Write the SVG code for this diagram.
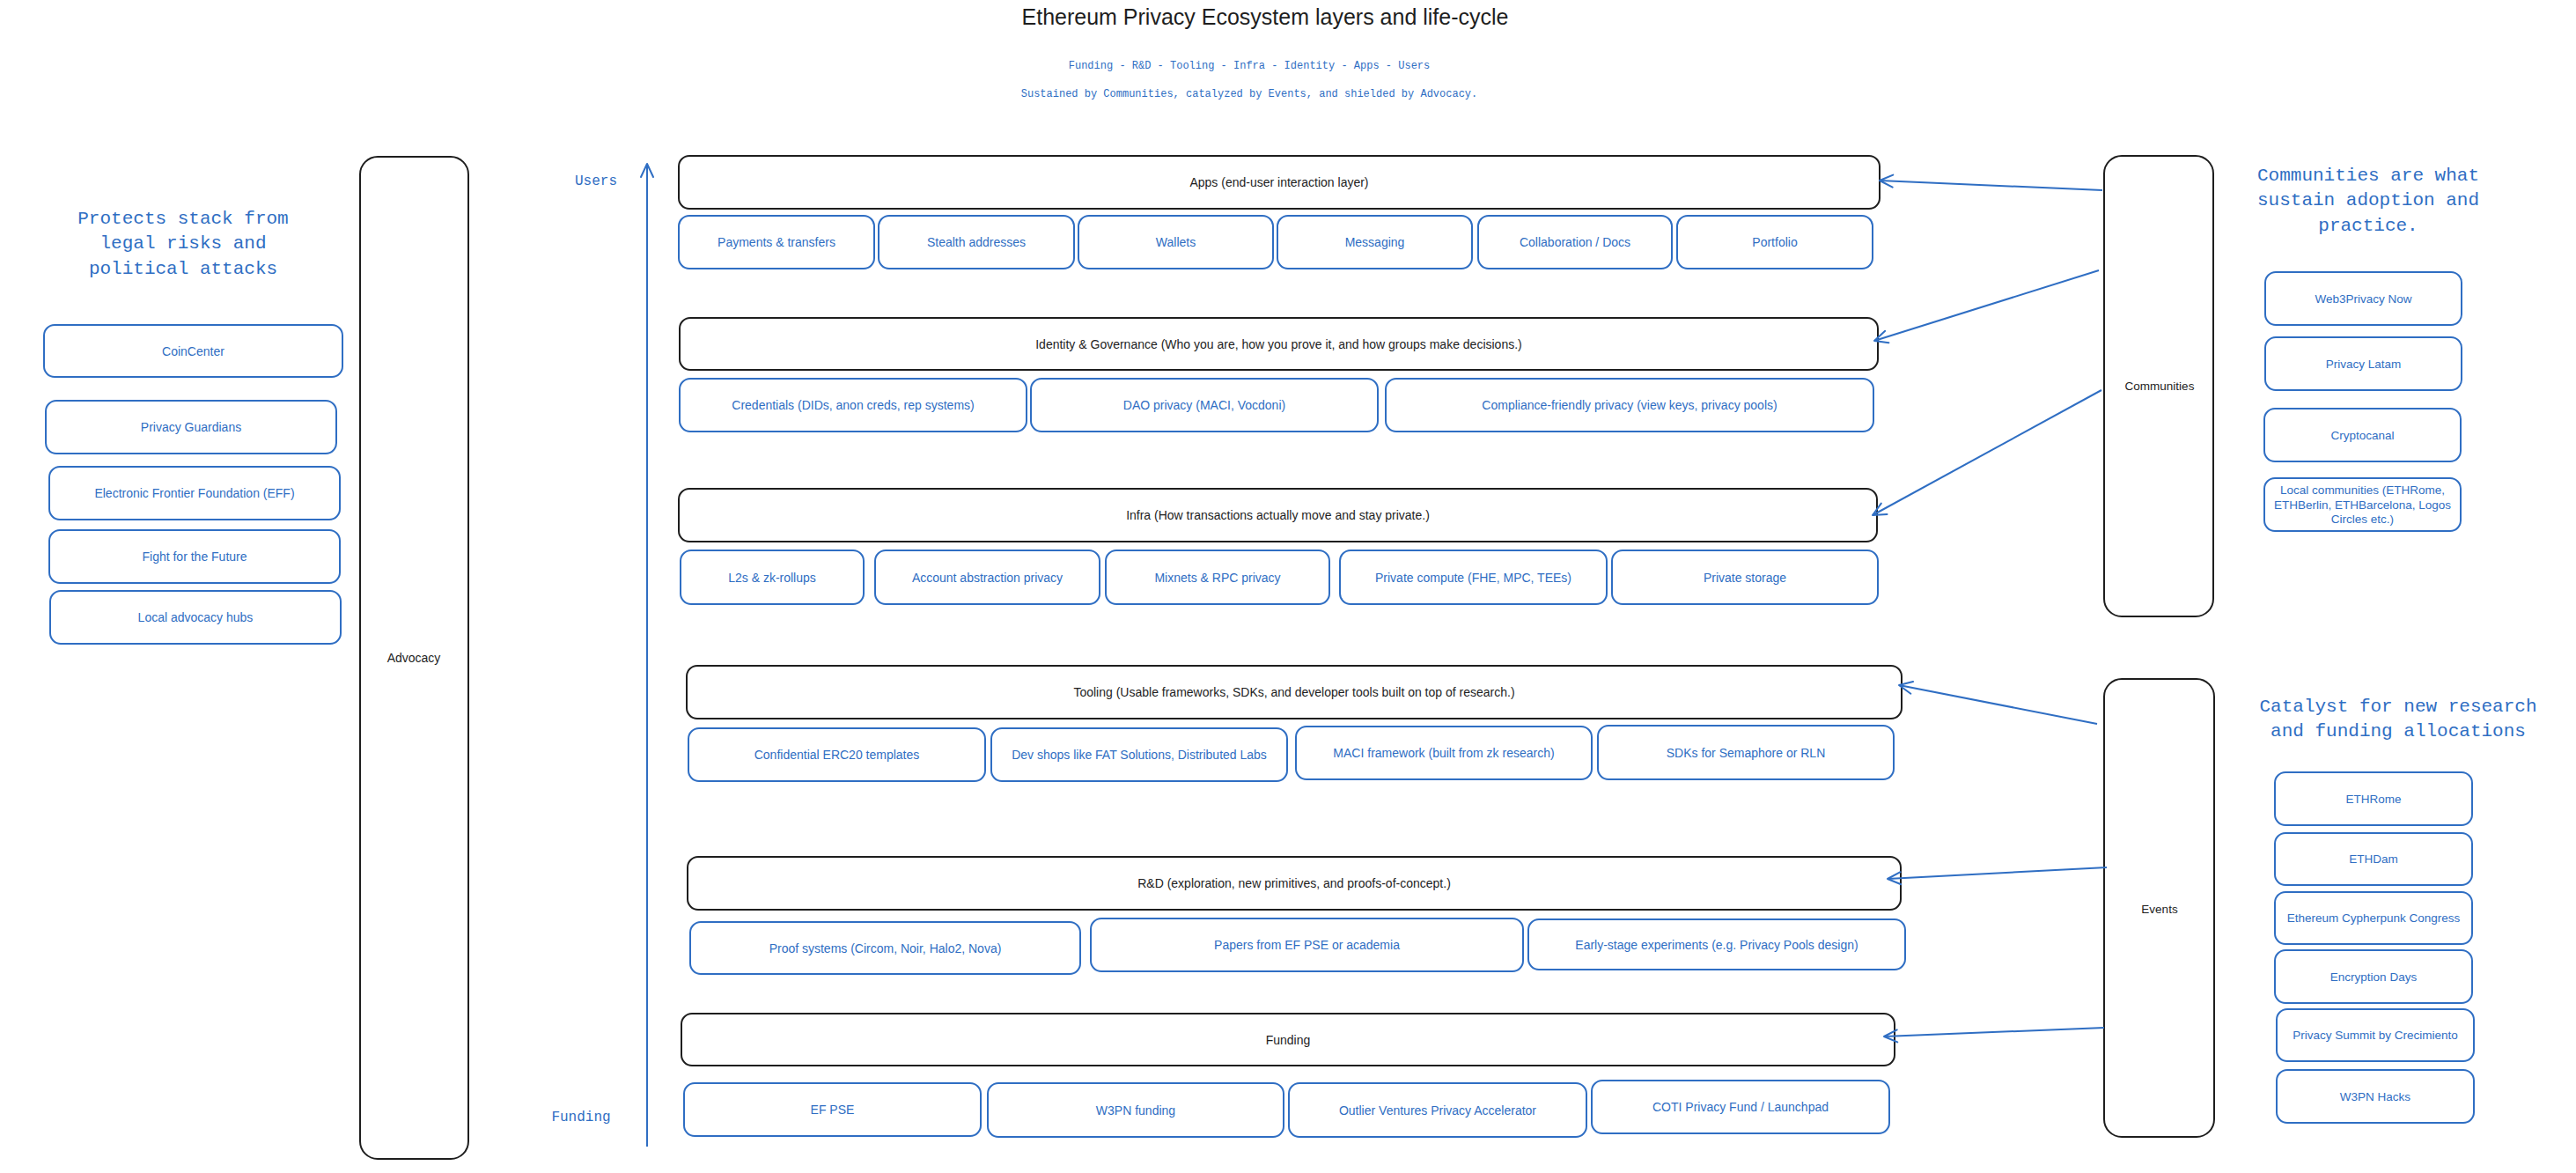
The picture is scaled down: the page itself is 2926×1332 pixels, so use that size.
<svg xmlns="http://www.w3.org/2000/svg" width="2926" height="1332" viewBox="0 0 2926 1332">
<style>
.bg{fill:#ffffff}
.lay{fill:#ffffff;stroke:#1e1e1e;stroke-width:2}
.tall{fill:#ffffff;stroke:#1e1e1e;stroke-width:2}
.sub{fill:#ffffff;stroke:#2f6ec3;stroke-width:2}
.t{font-family:"Liberation Sans",Arial,sans-serif;font-size:14px;text-anchor:middle;dominant-baseline:central}
.tk{fill:#1e1e1e}
.tbl{fill:#2f6ec3}
.tr{font-size:13.5px}
.mono{font-family:"Liberation Mono","DejaVu Sans Mono",monospace;fill:#2f6ec3;text-anchor:middle}
.h{font-size:21px}
.s{font-size:12px}
.ax{font-size:16px}
.title{font-family:"Liberation Sans",Arial,sans-serif;font-size:25px;fill:#1e1e1e;text-anchor:middle}
.conn{stroke:#2f6ec3;stroke-width:2;fill:none;marker-end:url(#ah)}
</style>
<defs>
<marker id="ah" markerUnits="userSpaceOnUse" markerWidth="24" markerHeight="24" refX="18" refY="10" orient="auto">
<path d="M3,3 L18,10 L3,17" fill="none" stroke="#2f6ec3" stroke-width="2" stroke-linecap="round" stroke-linejoin="round"/>
</marker>
</defs>
<rect class="bg" x="0" y="0" width="2926" height="1332"/>

<g id="header">
<text class="title" x="1437" y="28">Ethereum Privacy Ecosystem layers and life-cycle</text>
<text class="mono s" x="1419" y="78">Funding - R&amp;D - Tooling - Infra - Identity - Apps - Users</text>
<text class="mono s" x="1419" y="110">Sustained by Communities, catalyzed by Events, and shielded by Advocacy.</text>
</g>

<g id="advocacy-heading">
<text class="mono h" x="208" y="254">Protects stack from</text>
<text class="mono h" x="208" y="282">legal risks and</text>
<text class="mono h" x="208" y="311">political attacks</text>
</g>
<g id="communities-heading">
<text class="mono h" x="2690" y="205">Communities are what</text>
<text class="mono h" x="2690" y="233">sustain adoption and</text>
<text class="mono h" x="2690" y="262">practice.</text>
</g>
<g id="events-heading">
<text class="mono h" x="2724" y="808">Catalyst for new research</text>
<text class="mono h" x="2724" y="836">and funding allocations</text>
</g>

<g id="axis">
<text class="mono ax" x="677" y="210">Users</text>
<text class="mono ax" x="660" y="1273">Funding</text>
</g>

<g id="advocacy"><rect class="tall" x="409" y="178" width="123" height="1138" rx="20"/><text class="t tk" x="470" y="747">Advocacy</text></g>
<g id="communities"><rect class="tall" x="2390" y="177" width="124" height="523" rx="20"/><text class="t tk tr" x="2453" y="438">Communities</text></g>
<g id="events"><rect class="tall" x="2390" y="771" width="125" height="520" rx="20"/><text class="t tk tr" x="2453" y="1032">Events</text></g>

<g id="adv-coincenter"><rect class="sub" x="50" y="369" width="339" height="59" rx="12"/><text class="t tbl" x="219.5" y="398.5">CoinCenter</text></g>
<g id="adv-privacy-guardians"><rect class="sub" x="52" y="455" width="330" height="60" rx="12"/><text class="t tbl" x="217" y="485">Privacy Guardians</text></g>
<g id="adv-eff"><rect class="sub" x="56" y="530" width="330" height="60" rx="12"/><text class="t tbl" x="221" y="560">Electronic Frontier Foundation (EFF)</text></g>
<g id="adv-fftf"><rect class="sub" x="56" y="602" width="330" height="60" rx="12"/><text class="t tbl" x="221" y="632">Fight for the Future</text></g>
<g id="adv-local"><rect class="sub" x="57" y="671" width="330" height="60" rx="12"/><text class="t tbl" x="222" y="701">Local advocacy hubs</text></g>

<g id="apps"><rect class="lay" x="771" y="177" width="1364" height="60" rx="12"/><text class="t tk" x="1453" y="207">Apps (end-user interaction layer)</text></g>
<g id="app-payments"><rect class="sub" x="771" y="245" width="222" height="60" rx="12"/><text class="t tbl" x="882" y="275">Payments &amp; transfers</text></g>
<g id="app-stealth"><rect class="sub" x="998" y="245" width="222" height="60" rx="12"/><text class="t tbl" x="1109" y="275">Stealth addresses</text></g>
<g id="app-wallets"><rect class="sub" x="1225" y="245" width="221" height="60" rx="12"/><text class="t tbl" x="1335.5" y="275">Wallets</text></g>
<g id="app-messaging"><rect class="sub" x="1451" y="245" width="221" height="60" rx="12"/><text class="t tbl" x="1561.5" y="275">Messaging</text></g>
<g id="app-collab"><rect class="sub" x="1679" y="245" width="220" height="60" rx="12"/><text class="t tbl" x="1789" y="275">Collaboration / Docs</text></g>
<g id="app-portfolio"><rect class="sub" x="1905" y="245" width="222" height="60" rx="12"/><text class="t tbl" x="2016" y="275">Portfolio</text></g>

<g id="identity"><rect class="lay" x="772" y="361" width="1361" height="59" rx="12"/><text class="t tk" x="1452.5" y="390.5">Identity &amp; Governance (Who you are, how you prove it, and how groups make decisions.)</text></g>
<g id="id-credentials"><rect class="sub" x="772" y="430" width="394" height="60" rx="12"/><text class="t tbl" x="969" y="460">Credentials (DIDs, anon creds, rep systems)</text></g>
<g id="id-dao"><rect class="sub" x="1171" y="430" width="394" height="60" rx="12"/><text class="t tbl" x="1368" y="460">DAO privacy (MACI, Vocdoni)</text></g>
<g id="id-compliance"><rect class="sub" x="1574" y="430" width="554" height="60" rx="12"/><text class="t tbl" x="1851" y="460">Compliance-friendly privacy (view keys, privacy pools)</text></g>

<g id="infra"><rect class="lay" x="771" y="555" width="1361" height="60" rx="12"/><text class="t tk" x="1451.5" y="585">Infra (How transactions actually move and stay private.)</text></g>
<g id="inf-l2"><rect class="sub" x="773" y="625" width="208" height="61" rx="12"/><text class="t tbl" x="877" y="655.5">L2s &amp; zk-rollups</text></g>
<g id="inf-aa"><rect class="sub" x="994" y="625" width="255" height="61" rx="12"/><text class="t tbl" x="1121.5" y="655.5">Account abstraction privacy</text></g>
<g id="inf-mixnets"><rect class="sub" x="1256" y="625" width="254" height="61" rx="12"/><text class="t tbl" x="1383" y="655.5">Mixnets &amp; RPC privacy</text></g>
<g id="inf-compute"><rect class="sub" x="1522" y="625" width="303" height="61" rx="12"/><text class="t tbl" x="1673.5" y="655.5">Private compute (FHE, MPC, TEEs)</text></g>
<g id="inf-storage"><rect class="sub" x="1831" y="625" width="302" height="61" rx="12"/><text class="t tbl" x="1982" y="655.5">Private storage</text></g>

<g id="tooling"><rect class="lay" x="780" y="756" width="1380" height="60" rx="12"/><text class="t tk" x="1470" y="786">Tooling (Usable frameworks, SDKs, and developer tools built on top of research.)</text></g>
<g id="tool-erc20"><rect class="sub" x="782" y="827" width="337" height="60" rx="12"/><text class="t tbl" x="950.5" y="857">Confidential ERC20 templates</text></g>
<g id="tool-devshops"><rect class="sub" x="1126" y="827" width="336" height="60" rx="12"/><text class="t tbl" x="1294" y="857">Dev shops like FAT Solutions, Distributed Labs</text></g>
<g id="tool-maci"><rect class="sub" x="1472" y="825" width="336" height="60" rx="12"/><text class="t tbl" x="1640" y="855">MACI framework (built from zk research)</text></g>
<g id="tool-sdks"><rect class="sub" x="1815" y="824" width="336" height="61" rx="12"/><text class="t tbl" x="1983" y="854.5">SDKs for Semaphore or RLN</text></g>

<g id="rnd"><rect class="lay" x="781" y="973" width="1378" height="60" rx="12"/><text class="t tk" x="1470" y="1003">R&amp;D (exploration, new primitives, and proofs-of-concept.)</text></g>
<g id="rnd-proof"><rect class="sub" x="784" y="1047" width="443" height="59" rx="12"/><text class="t tbl" x="1005.5" y="1076.5">Proof systems (Circom, Noir, Halo2, Nova)</text></g>
<g id="rnd-papers"><rect class="sub" x="1239" y="1043" width="491" height="60" rx="12"/><text class="t tbl" x="1484.5" y="1073">Papers from EF PSE or academia</text></g>
<g id="rnd-early"><rect class="sub" x="1736" y="1044" width="428" height="57" rx="12"/><text class="t tbl" x="1950" y="1072.5">Early-stage experiments (e.g. Privacy Pools design)</text></g>

<g id="funding"><rect class="lay" x="774" y="1151" width="1378" height="59" rx="12"/><text class="t tk" x="1463" y="1180.5">Funding</text></g>
<g id="fund-efpse"><rect class="sub" x="777" y="1230" width="337" height="60" rx="12"/><text class="t tbl" x="945.5" y="1260">EF PSE</text></g>
<g id="fund-w3pn"><rect class="sub" x="1122" y="1230" width="336" height="61" rx="12"/><text class="t tbl" x="1290" y="1260.5">W3PN funding</text></g>
<g id="fund-outlier"><rect class="sub" x="1464" y="1230" width="338" height="61" rx="12"/><text class="t tbl" x="1633" y="1260.5">Outlier Ventures Privacy Accelerator</text></g>
<g id="fund-coti"><rect class="sub" x="1808" y="1227" width="338" height="60" rx="12"/><text class="t tbl" x="1977" y="1257">COTI Privacy Fund / Launchpad</text></g>

<g id="com-w3pn"><rect class="sub" x="2573" y="309" width="223" height="60" rx="12"/><text class="t tbl tr" x="2684.5" y="339">Web3Privacy Now</text></g>
<g id="com-latam"><rect class="sub" x="2573" y="383" width="223" height="60" rx="12"/><text class="t tbl tr" x="2684.5" y="413">Privacy Latam</text></g>
<g id="com-cryptocanal"><rect class="sub" x="2572" y="464" width="223" height="60" rx="12"/><text class="t tbl tr" x="2683.5" y="494">Cryptocanal</text></g>
<g id="com-local"><rect class="sub" x="2572" y="543" width="223" height="60" rx="12"/><text class="t tbl tr" x="2683.5" y="556.5">Local communities (ETHRome,</text><text class="t tbl tr" x="2683.5" y="573">ETHBerlin, ETHBarcelona, Logos</text><text class="t tbl tr" x="2683.5" y="589.5">Circles etc.)</text></g>

<g id="ev-ethrome"><rect class="sub" x="2584" y="877" width="224" height="60" rx="12"/><text class="t tbl tr" x="2696" y="907">ETHRome</text></g>
<g id="ev-ethdam"><rect class="sub" x="2584" y="946" width="224" height="59" rx="12"/><text class="t tbl tr" x="2696" y="975.5">ETHDam</text></g>
<g id="ev-ecc"><rect class="sub" x="2584" y="1013" width="224" height="59" rx="12"/><text class="t tbl tr" x="2696" y="1042.5">Ethereum Cypherpunk Congress</text></g>
<g id="ev-encryption"><rect class="sub" x="2584" y="1079" width="224" height="60" rx="12"/><text class="t tbl tr" x="2696" y="1109">Encryption Days</text></g>
<g id="ev-summit"><rect class="sub" x="2586" y="1146" width="224" height="59" rx="12"/><text class="t tbl tr" x="2698" y="1175.5">Privacy Summit by Crecimiento</text></g>
<g id="ev-w3pnhacks"><rect class="sub" x="2586" y="1215" width="224" height="60" rx="12"/><text class="t tbl tr" x="2698" y="1245">W3PN Hacks</text></g>

<g id="connectors">
<line class="conn" x1="735" y1="1302" x2="735" y2="186"/>
<line class="conn" x1="2388" y1="216" x2="2135" y2="205"/>
<line class="conn" x1="2384" y1="307" x2="2129" y2="387"/>
<line class="conn" x1="2387" y1="443" x2="2127" y2="585"/>
<line class="conn" x1="2382" y1="822" x2="2157" y2="778"/>
<line class="conn" x1="2393" y1="985" x2="2144" y2="998"/>
<line class="conn" x1="2390" y1="1167" x2="2140" y2="1177"/>
</g>
</svg>
